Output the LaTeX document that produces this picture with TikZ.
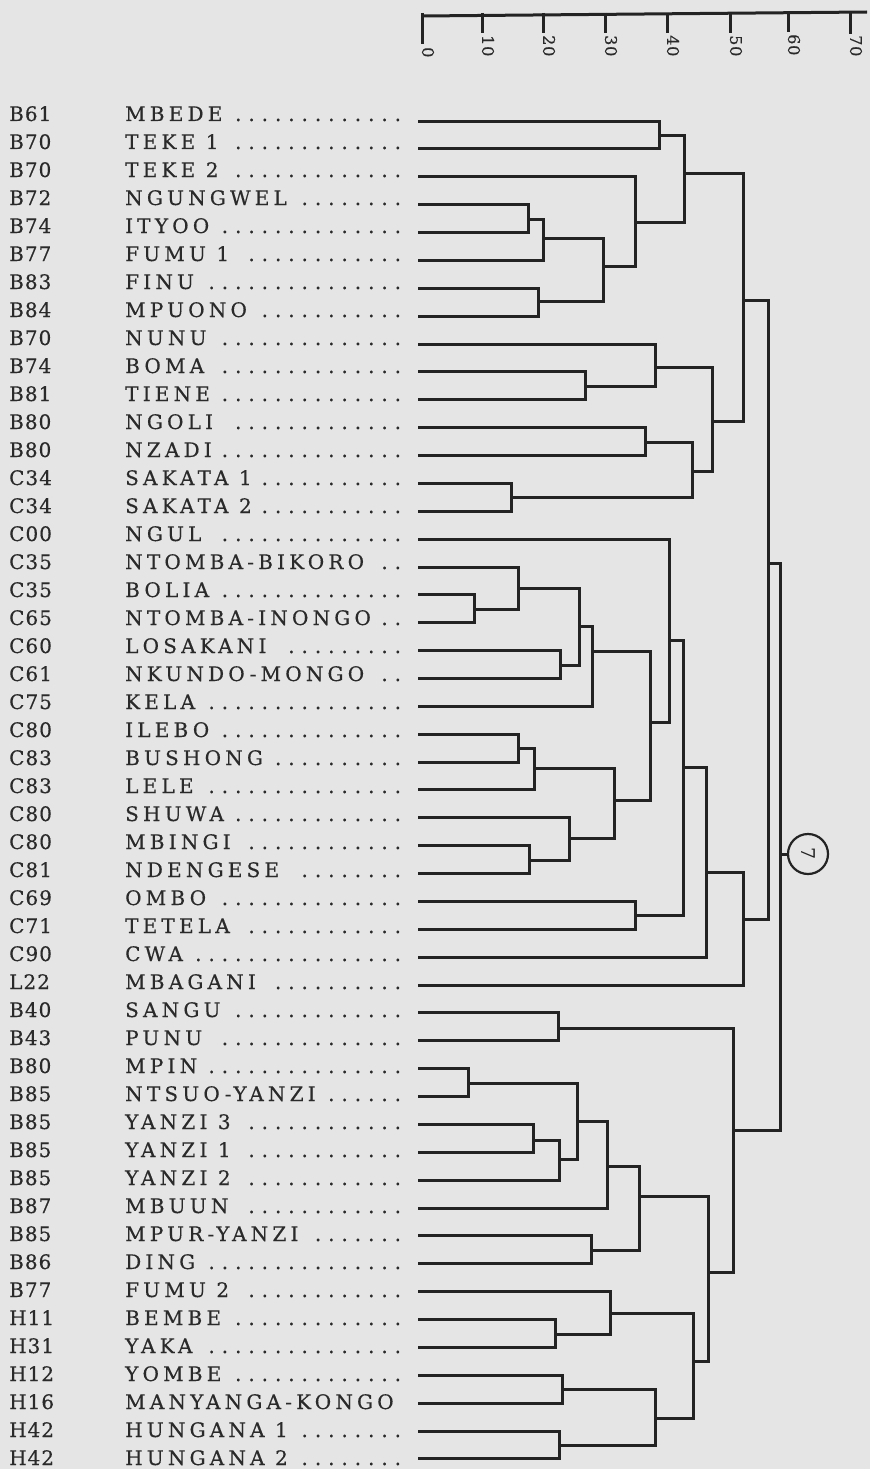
\documentclass[tikz,border=0pt]{standalone}
\usepackage{fontspec}
\setmainfont{DejaVu Serif}
\newfontfamily\labfont[LetterSpace=21,FakeBold=0.4]{DejaVu Serif}
\newfontfamily\codefont[LetterSpace=5,FakeBold=0.4]{DejaVu Serif}
\definecolor{bg}{HTML}{E5E5E5}
\definecolor{ink}{HTML}{232323}
\definecolor{txt}{HTML}{2A2A2A}
\newcommand{\leadname}[1]{\makebox[284pt][l]{#1\hspace{6pt}\leaders\hbox to 13.3pt{\hss.\hss}\hfill}}
\tikzset{
  codelab/.style={anchor=base west, inner sep=0pt, text=txt, font=\codefont\fontsize{20}{22}\selectfont},
  namelab/.style={anchor=base west, inner sep=0pt, text=txt, font=\labfont\fontsize{20}{22}\selectfont},
  branch/.style={draw=ink, line width=3pt, line join=miter},
  ticklab/.style={anchor=west, rotate=-90, inner sep=0pt, text=txt, font=\codefont\fontsize{16}{18}\selectfont},
  marker/.style={draw=ink, line width=2.2pt, circle, minimum size=40pt, inner sep=0pt, text=ink, font=\fontsize{19}{21}\selectfont}
}
\begin{document}
\begin{tikzpicture}[x=1pt, y=-1pt]
\fill[bg] (0,0) rectangle (870,1469);
\useasboundingbox (0,0) rectangle (870,1469);
% scale
\coordinate (ax0) at (422,16);
\coordinate (axend) at (867,12);
\draw[branch] (ax0) -- (axend);
\foreach \v/\x/\len in {0/422/29, 10/482/18, 20/543/18, 30/605/18, 40/667/18, 50/730/18, 60/788/17, 70/850/19}{
  \coordinate (t\v) at (\x,13);
  \draw[branch] (t\v) -- ++(0,\len+2);
}
\foreach \v/\x/\y in {0/428/47, 10/488/35, 20/549/35, 30/611/35, 40/673/35, 50/736/35, 60/794/34, 70/856/35}{
  \node[ticklab] (tl\v) at (\x,\y) {\v};
}
% labels
\foreach \i/\c/\n in {1/B61/MBEDE, 2/B70/TEKE 1, 3/B70/TEKE 2, 4/B72/NGUNGWEL, 5/B74/ITYOO, 6/B77/FUMU 1, 7/B83/FINU, 8/B84/MPUONO, 9/B70/NUNU, 10/B74/BOMA, 11/B81/TIENE, 12/B80/NGOLI, 13/B80/NZADI, 14/C34/SAKATA 1, 15/C34/SAKATA 2, 16/C00/NGUL, 17/C35/NTOMBA-BIKORO, 18/C35/BOLIA, 19/C65/NTOMBA-INONGO, 20/C60/LOSAKANI, 21/C61/NKUNDO-MONGO, 22/C75/KELA, 23/C80/ILEBO, 24/C83/BUSHONG, 25/C83/LELE, 26/C80/SHUWA, 27/C80/MBINGI, 28/C81/NDENGESE, 29/C69/OMBO, 30/C71/TETELA, 31/C90/CWA, 32/L22/MBAGANI, 33/B40/SANGU, 34/B43/PUNU, 35/B80/MPIN, 36/B85/NTSUO-YANZI, 37/B85/YANZI 3, 38/B85/YANZI 1, 39/B85/YANZI 2, 40/B87/MBUUN, 41/B85/MPUR-YANZI, 42/B86/DING, 43/B77/FUMU 2, 44/H11/BEMBE, 45/H31/YAKA, 46/H12/YOMBE, 47/H16/MANYANGA-KONGO, 48/H42/HUNGANA 1, 49/H42/HUNGANA 2}{
  \pgfmathsetmacro\tb{121+(\i-1)*28}
  \pgfmathsetmacro\ly{121.1+(\i-1)*27.87}
  \node[codelab] (k\i) at (9,\tb) {\c};
  \node[namelab] (n\i) at (125,\tb) {\leadname{\n}};
  \coordinate (l\i) at (418,\ly);
}
% internal nodes: group A
\coordinate (a1) at (659,136);
\coordinate (a2) at (528,219);
\coordinate (a3) at (543,238);
\coordinate (a4) at (538,301);
\coordinate (a5) at (603,266);
\coordinate (a6) at (635,222);
\coordinate (a7) at (684,173);
\coordinate (a8) at (585,386);
\coordinate (a9) at (655,367);
\coordinate (a10) at (645,442);
\coordinate (a11) at (511,497);
\coordinate (a12) at (692,471);
\coordinate (a13) at (712.5,421);
\coordinate (a14) at (743,300);
% group C
\coordinate (c1) at (474,609);
\coordinate (c2) at (518,588);
\coordinate (c3) at (560,665);
\coordinate (c4) at (579,626);
\coordinate (c5) at (592,651);
\coordinate (c6) at (518,748);
\coordinate (c7) at (534,768);
\coordinate (c8) at (529,860);
\coordinate (c9) at (569,838);
\coordinate (c10) at (614,800);
\coordinate (c11) at (650.5,722);
\coordinate (c12) at (669.5,640);
\coordinate (c13) at (635,915);
\coordinate (c14) at (683.5,767);
\coordinate (c15) at (706,872);
\coordinate (c16) at (743,919);
\coordinate (u) at (768.5,563);
% group H
\coordinate (h1) at (558,1028);
\coordinate (h2) at (468,1083);
\coordinate (h3) at (533,1140);
\coordinate (h4) at (559.5,1159);
\coordinate (h5) at (577,1121);
\coordinate (h6) at (607,1166);
\coordinate (h7) at (591,1250);
\coordinate (h8) at (639.5,1196);
\coordinate (h9) at (555,1334);
\coordinate (h10) at (610,1313);
\coordinate (h11) at (562,1389);
\coordinate (h12) at (559.5,1445);
\coordinate (h13) at (655,1418);
\coordinate (h14) at (693.5,1361);
\coordinate (h15) at (708,1272);
\coordinate (h16) at (733,1130);
\coordinate (root) at (780,854);
\node[marker] (seven) at (808,854) {\rotatebox{-90}{7}};
% branches A
\draw[branch] (l1) -| (a1) |- (l2);
\draw[branch] (l4) -| (a2) |- (l5);
\draw[branch] (a2) -| (a3) |- (l6);
\draw[branch] (l7) -| (a4) |- (l8);
\draw[branch] (a3) -| (a5) |- (a4);
\draw[branch] (l3) -| (a6) |- (a5);
\draw[branch] (a1) -| (a7) |- (a6);
\draw[branch] (l10) -| (a8) |- (l11);
\draw[branch] (l9) -| (a9) |- (a8);
\draw[branch] (l12) -| (a10) |- (l13);
\draw[branch] (l14) -| (a11) |- (l15);
\draw[branch] (a10) -| (a12) |- (a11);
\draw[branch] (a9) -| (a13) |- (a12);
\draw[branch] (a7) -| (a14) |- (a13);
% branches C
\draw[branch] (l18) -| (c1) |- (l19);
\draw[branch] (l17) -| (c2) |- (c1);
\draw[branch] (l20) -| (c3) |- (l21);
\draw[branch] (c2) -| (c4) |- (c3);
\draw[branch] (c4) -| (c5) |- (l22);
\draw[branch] (l23) -| (c6) |- (l24);
\draw[branch] (c6) -| (c7) |- (l25);
\draw[branch] (l27) -| (c8) |- (l28);
\draw[branch] (l26) -| (c9) |- (c8);
\draw[branch] (c7) -| (c10) |- (c9);
\draw[branch] (c5) -| (c11) |- (c10);
\draw[branch] (l16) -| (c12) |- (c11);
\draw[branch] (l29) -| (c13) |- (l30);
\draw[branch] (c12) -| (c14) |- (c13);
\draw[branch] (c14) -| (c15) |- (l31);
\draw[branch] (c15) -| (c16) |- (l32);
\draw[branch] (a14) -| (u) |- (c16);
% branches H
\draw[branch] (l33) -| (h1) |- (l34);
\draw[branch] (l35) -| (h2) |- (l36);
\draw[branch] (l37) -| (h3) |- (l38);
\draw[branch] (h3) -| (h4) |- (l39);
\draw[branch] (h2) -| (h5) |- (h4);
\draw[branch] (h5) -| (h6) |- (l40);
\draw[branch] (l41) -| (h7) |- (l42);
\draw[branch] (h6) -| (h8) |- (h7);
\draw[branch] (l44) -| (h9) |- (l45);
\draw[branch] (l43) -| (h10) |- (h9);
\draw[branch] (l46) -| (h11) |- (l47);
\draw[branch] (l48) -| (h12) |- (l49);
\draw[branch] (h11) -| (h13) |- (h12);
\draw[branch] (h10) -| (h14) |- (h13);
\draw[branch] (h8) -| (h15) |- (h14);
\draw[branch] (h1) -| (h16) |- (h15);
% root
\draw[branch] (u) -| (root) |- (h16);
\draw[branch] (root) -- (seven.west);
\end{tikzpicture}
\end{document}
